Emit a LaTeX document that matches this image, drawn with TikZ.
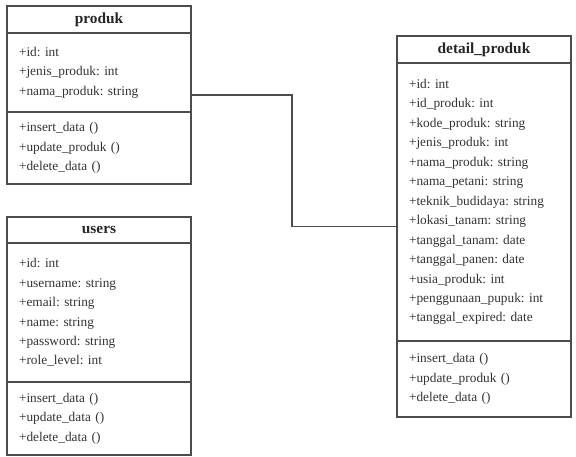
\documentclass[tikz,border=0pt]{standalone}
\usepackage{fontspec}
\setmainfont{Liberation Serif}
\frenchspacing
\usetikzlibrary{positioning, fit, calc}

\begin{document}
\begin{tikzpicture}[
        x=0.75pt, y=-0.75pt,
        box/.style={rectangle, draw=black!70, line width=1pt, outer sep=0pt, inner xsep=9pt, inner ysep=0pt},
        head/.style={box, font=\fontsize{11.5}{13}\selectfont\bfseries, text=black!85, align=center},
        part/.style={box, font=\fontsize{10}{14.6}\selectfont, text=black!80, align=left},
        frame/.style={draw=none, inner sep=0pt, outer sep=0pt},
        link/.style={draw=black!70, line width=1pt}
    ]
        \useasboundingbox (0,0) rectangle (576,457);

        % Class produk
        \node[head, anchor=north west, minimum width=138pt, minimum height=20.25pt] (p_head) at (7,6) {produk};
        \node[part, below=0pt of p_head, text width=120pt, minimum height=59.25pt] (p_attr) {+id: int\\+jenis\_produk: int\\+nama\_produk: string};
        \node[part, below=0pt of p_attr, text width=120pt, minimum height=54pt] (p_ops) {+insert\_data ()\\+update\_produk ()\\+delete\_data ()};
        \node[frame, fit=(p_head)(p_ops)] (produk) {};

        % Class users
        \node[head, anchor=north west, minimum width=138pt, minimum height=19.5pt] (u_head) at (7,217) {users};
        \node[part, below=0pt of u_head, text width=120pt, minimum height=104.25pt] (u_attr) {+id: int\\+username: string\\+email: string\\+name: string\\+password: string\\+role\_level: int};
        \node[part, below=0pt of u_attr, text width=120pt, minimum height=54.75pt] (u_ops) {+insert\_data ()\\+update\_data ()\\+delete\_data ()};

        % Class detail_produk
        \node[head, anchor=north west, minimum width=130.5pt, minimum height=20.25pt] (d_head) at (397,36) {detail\_produk};
        \node[part, below=0pt of d_head, text width=112.5pt, minimum height=208.5pt] (d_attr) {+id: int\\+id\_produk: int\\+kode\_produk: string\\+jenis\_produk: int\\+nama\_produk: string\\+nama\_petani: string\\+teknik\_budidaya: string\\+lokasi\_tanam: string\\+tanggal\_tanam: date\\+tanggal\_panen: date\\+usia\_produk: int\\+penggunaan\_pupuk: int\\+tanggal\_expired: date};
        \node[part, below=0pt of d_attr, text width=112.5pt, minimum height=57pt] (d_ops) {+insert\_data ()\\+update\_produk ()\\+delete\_data ()};
        \node[frame, fit=(d_head)(d_ops)] (detail) {};

        % Association
        \coordinate (bend) at ($(produk.east)!0.49!(detail.west)$);
        \draw[link] (produk.east) -| (bend) |- (detail.west);
    \end{tikzpicture}
\end{document}
